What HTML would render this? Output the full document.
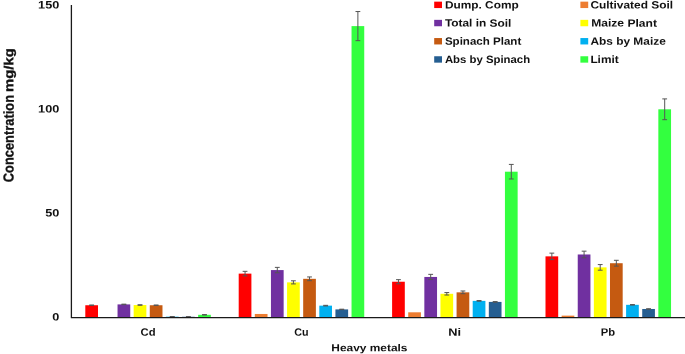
<!DOCTYPE html>
<html><head><meta charset="utf-8"><title>Heavy metals chart</title>
<style>html,body{margin:0;padding:0;background:#fff}body{width:685px;height:354px;overflow:hidden}</style></head>
<body>
<svg width="685" height="354" viewBox="0 0 685 354" style="display:block">
<rect width="685" height="354" fill="#fff"/>
<rect x="85.30" y="305.24" width="12.7" height="12.06" fill="#FF0000"/>
<path d="M91.65 304.99V305.49M89.25 304.99h4.8M89.25 305.49h4.8" stroke="#555555" stroke-width="1" fill="none"/>
<rect x="117.54" y="304.40" width="12.7" height="12.90" fill="#7030A0"/>
<path d="M123.89 304.15V304.65M121.49 304.15h4.8M121.49 304.65h4.8" stroke="#555555" stroke-width="1" fill="none"/>
<rect x="133.66" y="305.03" width="12.7" height="12.27" fill="#FFFF00"/>
<path d="M140.01 304.78V305.28M137.61 304.78h4.8M137.61 305.28h4.8" stroke="#555555" stroke-width="1" fill="none"/>
<rect x="149.78" y="305.24" width="12.7" height="12.06" fill="#C55A11"/>
<path d="M156.13 304.99V305.49M153.73 304.99h4.8M153.73 305.49h4.8" stroke="#555555" stroke-width="1" fill="none"/>
<rect x="165.90" y="316.68" width="12.7" height="0.62" fill="#00B0F0"/>
<path d="M172.25 316.57V316.78M169.85 316.57h4.8M169.85 316.78h4.8" stroke="#555555" stroke-width="1" fill="none"/>
<rect x="182.02" y="316.78" width="12.7" height="0.52" fill="#255E91"/>
<path d="M188.37 316.68V316.88M185.97 316.68h4.8M185.97 316.88h4.8" stroke="#555555" stroke-width="1" fill="none"/>
<rect x="198.14" y="314.80" width="12.7" height="2.50" fill="#33FF3F"/>
<path d="M204.49 314.60V315.01M202.09 314.60h4.8M202.09 315.01h4.8" stroke="#555555" stroke-width="1" fill="none"/>
<rect x="238.70" y="273.62" width="12.7" height="43.68" fill="#FF0000"/>
<path d="M245.05 271.33V275.91M242.65 271.33h4.8M242.65 275.91h4.8" stroke="#555555" stroke-width="1" fill="none"/>
<rect x="254.82" y="313.97" width="12.7" height="3.33" fill="#ED7D31"/>
<rect x="270.94" y="270.08" width="12.7" height="47.22" fill="#7030A0"/>
<path d="M277.29 267.38V272.79M274.89 267.38h4.8M274.89 272.79h4.8" stroke="#555555" stroke-width="1" fill="none"/>
<rect x="287.06" y="282.36" width="12.7" height="34.94" fill="#FFFF00"/>
<path d="M293.41 280.80V283.92M291.01 280.80h4.8M291.01 283.92h4.8" stroke="#555555" stroke-width="1" fill="none"/>
<rect x="303.18" y="278.82" width="12.7" height="38.48" fill="#C55A11"/>
<path d="M309.53 276.95V280.69M307.13 276.95h4.8M307.13 280.69h4.8" stroke="#555555" stroke-width="1" fill="none"/>
<rect x="319.30" y="305.65" width="12.7" height="11.65" fill="#00B0F0"/>
<path d="M325.65 305.34V305.96M323.25 305.34h4.8M323.25 305.96h4.8" stroke="#555555" stroke-width="1" fill="none"/>
<rect x="335.42" y="309.40" width="12.7" height="7.90" fill="#255E91"/>
<path d="M341.77 309.19V309.60M339.37 309.19h4.8M339.37 309.60h4.8" stroke="#555555" stroke-width="1" fill="none"/>
<rect x="351.54" y="26.10" width="12.7" height="291.20" fill="#33FF3F"/>
<path d="M357.89 11.54V40.66M355.49 11.54h4.8M355.49 40.66h4.8" stroke="#555555" stroke-width="1" fill="none"/>
<rect x="392.10" y="281.73" width="12.7" height="35.57" fill="#FF0000"/>
<path d="M398.45 279.65V283.81M396.05 279.65h4.8M396.05 283.81h4.8" stroke="#555555" stroke-width="1" fill="none"/>
<rect x="408.22" y="312.31" width="12.7" height="4.99" fill="#ED7D31"/>
<rect x="424.34" y="276.95" width="12.7" height="40.35" fill="#7030A0"/>
<path d="M430.69 274.35V279.55M428.29 274.35h4.8M428.29 279.55h4.8" stroke="#555555" stroke-width="1" fill="none"/>
<rect x="440.46" y="293.80" width="12.7" height="23.50" fill="#FFFF00"/>
<path d="M446.81 292.55V295.04M444.41 292.55h4.8M444.41 295.04h4.8" stroke="#555555" stroke-width="1" fill="none"/>
<rect x="456.58" y="292.34" width="12.7" height="24.96" fill="#C55A11"/>
<path d="M462.93 290.99V293.69M460.53 290.99h4.8M460.53 293.69h4.8" stroke="#555555" stroke-width="1" fill="none"/>
<rect x="472.70" y="300.87" width="12.7" height="16.43" fill="#00B0F0"/>
<path d="M479.05 300.56V301.18M476.65 300.56h4.8M476.65 301.18h4.8" stroke="#555555" stroke-width="1" fill="none"/>
<rect x="488.82" y="301.91" width="12.7" height="15.39" fill="#255E91"/>
<path d="M495.17 301.60V302.22M492.77 301.60h4.8M492.77 302.22h4.8" stroke="#555555" stroke-width="1" fill="none"/>
<rect x="504.94" y="171.70" width="12.7" height="145.60" fill="#33FF3F"/>
<path d="M511.29 164.42V178.98M508.89 164.42h4.8M508.89 178.98h4.8" stroke="#555555" stroke-width="1" fill="none"/>
<rect x="545.50" y="256.36" width="12.7" height="60.94" fill="#FF0000"/>
<path d="M551.85 253.13V259.58M549.45 253.13h4.8M549.45 259.58h4.8" stroke="#555555" stroke-width="1" fill="none"/>
<rect x="561.62" y="315.64" width="12.7" height="1.66" fill="#ED7D31"/>
<rect x="577.74" y="254.48" width="12.7" height="62.82" fill="#7030A0"/>
<path d="M584.09 251.16V257.81M581.69 251.16h4.8M581.69 257.81h4.8" stroke="#555555" stroke-width="1" fill="none"/>
<rect x="593.86" y="267.38" width="12.7" height="49.92" fill="#FFFF00"/>
<path d="M600.21 264.57V270.19M597.81 264.57h4.8M597.81 270.19h4.8" stroke="#555555" stroke-width="1" fill="none"/>
<rect x="609.98" y="263.22" width="12.7" height="54.08" fill="#C55A11"/>
<path d="M616.33 260.31V266.13M613.93 260.31h4.8M613.93 266.13h4.8" stroke="#555555" stroke-width="1" fill="none"/>
<rect x="626.10" y="304.82" width="12.7" height="12.48" fill="#00B0F0"/>
<path d="M632.45 304.57V305.07M630.05 304.57h4.8M630.05 305.07h4.8" stroke="#555555" stroke-width="1" fill="none"/>
<rect x="642.22" y="308.98" width="12.7" height="8.32" fill="#255E91"/>
<path d="M648.57 308.77V309.19M646.17 308.77h4.8M646.17 309.19h4.8" stroke="#555555" stroke-width="1" fill="none"/>
<rect x="658.34" y="109.30" width="12.7" height="208.00" fill="#33FF3F"/>
<path d="M664.69 98.90V119.70M662.29 98.90h4.8M662.29 119.70h4.8" stroke="#555555" stroke-width="1" fill="none"/>
<path d="M71.4 5V317.7H685" stroke="#1a1a1a" stroke-width="1.3" stroke-linejoin="round" fill="none"/>
<text x="52.23" y="320.4" transform="rotate(0.05 52.23 320.4)" font-size="10.8" textLength="7.07" lengthAdjust="spacingAndGlyphs" font-family="Liberation Sans, sans-serif" font-weight="bold" fill="#111">0</text>
<text x="45.15" y="216.4" transform="rotate(0.05 45.15 216.4)" font-size="10.8" textLength="14.15" lengthAdjust="spacingAndGlyphs" font-family="Liberation Sans, sans-serif" font-weight="bold" fill="#111">50</text>
<text x="38.10" y="112.4" transform="rotate(0.05 38.10 112.4)" font-size="10.8" textLength="21.2" lengthAdjust="spacingAndGlyphs" font-family="Liberation Sans, sans-serif" font-weight="bold" fill="#111">100</text>
<text x="38.10" y="8.4" transform="rotate(0.05 38.10 8.4)" font-size="10.8" textLength="21.2" lengthAdjust="spacingAndGlyphs" font-family="Liberation Sans, sans-serif" font-weight="bold" fill="#111">150</text>
<text x="140.6" y="335.7" transform="rotate(0.05 140.6 335.7)" font-size="10.7" textLength="15" lengthAdjust="spacingAndGlyphs" font-family="Liberation Sans, sans-serif" font-weight="bold" fill="#111">Cd</text>
<text x="294.3" y="335.7" transform="rotate(0.05 294.3 335.7)" font-size="10.7" textLength="14.3" lengthAdjust="spacingAndGlyphs" font-family="Liberation Sans, sans-serif" font-weight="bold" fill="#111">Cu</text>
<text x="448.3" y="335.7" transform="rotate(0.05 448.3 335.7)" font-size="10.7" textLength="12.8" lengthAdjust="spacingAndGlyphs" font-family="Liberation Sans, sans-serif" font-weight="bold" fill="#111">Ni</text>
<text x="600.8" y="335.7" transform="rotate(0.05 600.8 335.7)" font-size="10.7" textLength="14.3" lengthAdjust="spacingAndGlyphs" font-family="Liberation Sans, sans-serif" font-weight="bold" fill="#111">Pb</text>
<text x="331.3" y="351.3" transform="rotate(0.05 331.3 351.3)" font-size="10.2" textLength="76.2" lengthAdjust="spacingAndGlyphs" font-family="Liberation Sans, sans-serif" font-weight="bold" fill="#111">Heavy metals</text>
<text transform="translate(13.6,182.2) rotate(-89.95)" font-size="14.5" textLength="87.2" stroke="#111" stroke-width="0.3" lengthAdjust="spacingAndGlyphs" font-family="Liberation Sans, sans-serif" font-weight="bold" fill="#111">Concentration</text>
<text transform="translate(13.2,91.9) rotate(-89.95)" font-size="13" textLength="43.7" stroke="#111" stroke-width="0.3" lengthAdjust="spacingAndGlyphs" font-family="Liberation Sans, sans-serif" font-weight="bold" fill="#111">mg/kg</text>
<rect x="434.2" y="1.65" width="7.8" height="6.4" fill="#FF0000"/>
<text x="444.9" y="8.40" transform="rotate(0.05 444.9 8.40)" font-size="10.6" textLength="73.8" lengthAdjust="spacingAndGlyphs" font-family="Liberation Sans, sans-serif" font-weight="bold" fill="#111">Dump. Comp</text>
<rect x="580.4" y="1.65" width="7.8" height="6.4" fill="#ED7D31"/>
<text x="590.4" y="8.40" transform="rotate(0.05 590.4 8.40)" font-size="10.6" textLength="82.7" lengthAdjust="spacingAndGlyphs" font-family="Liberation Sans, sans-serif" font-weight="bold" fill="#111">Cultivated Soil</text>
<rect x="434.2" y="19.85" width="7.8" height="6.4" fill="#7030A0"/>
<text x="444.9" y="26.60" transform="rotate(0.05 444.9 26.60)" font-size="10.6" textLength="66.4" lengthAdjust="spacingAndGlyphs" font-family="Liberation Sans, sans-serif" font-weight="bold" fill="#111">Total in Soil</text>
<rect x="580.4" y="19.85" width="7.8" height="6.4" fill="#FFFF00"/>
<text x="591.2" y="26.60" transform="rotate(0.05 591.2 26.60)" font-size="10.6" textLength="65.8" lengthAdjust="spacingAndGlyphs" font-family="Liberation Sans, sans-serif" font-weight="bold" fill="#111">Maize Plant</text>
<rect x="434.2" y="38.05" width="7.8" height="6.4" fill="#C55A11"/>
<text x="444.9" y="44.80" transform="rotate(0.05 444.9 44.80)" font-size="10.6" textLength="76.4" lengthAdjust="spacingAndGlyphs" font-family="Liberation Sans, sans-serif" font-weight="bold" fill="#111">Spinach Plant</text>
<rect x="580.4" y="38.05" width="7.8" height="6.4" fill="#00B0F0"/>
<text x="590.4" y="44.80" transform="rotate(0.05 590.4 44.80)" font-size="10.6" textLength="75.4" lengthAdjust="spacingAndGlyphs" font-family="Liberation Sans, sans-serif" font-weight="bold" fill="#111">Abs by Maize</text>
<rect x="434.2" y="56.25" width="7.8" height="6.4" fill="#255E91"/>
<text x="444.9" y="63.00" transform="rotate(0.05 444.9 63.00)" font-size="10.6" textLength="85.2" lengthAdjust="spacingAndGlyphs" font-family="Liberation Sans, sans-serif" font-weight="bold" fill="#111">Abs by Spinach</text>
<rect x="580.4" y="56.25" width="7.8" height="6.4" fill="#33FF3F"/>
<text x="590.4" y="63.00" transform="rotate(0.05 590.4 63.00)" font-size="10.6" textLength="28.3" lengthAdjust="spacingAndGlyphs" font-family="Liberation Sans, sans-serif" font-weight="bold" fill="#111">Limit</text>
</svg>
</body></html>
